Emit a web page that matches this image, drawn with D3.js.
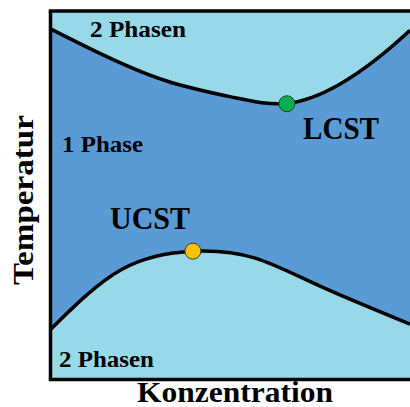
<!DOCTYPE html>
<html>
<head>
<meta charset="utf-8">
<script src="https://cdn.jsdelivr.net/npm/d3@7"></script>
<style>
  body { margin: 0; background: #fff; }
  text { font-family: "Liberation Serif", "Times New Roman", serif; font-weight: bold; }
</style>
</head>
<body>
<div id="chart"></div>
<script>
// upper boundary (LCST branch): concentration vs temperature
var upperConc = [0, 14, 32, 51, 66, 80, 92, 100];
var upperTemp = [95.1, 88.3, 81.0, 76.4, 74.8, 79.7, 87.8, 94.6];

// lower boundary (UCST branch)
var lowerConc = [0, 20, 40, 57, 75, 100];
var lowerTemp = [13.3, 29.8, 34.7, 32.8, 25.2, 14.9];

// critical points
var critNames = ["LCST", "UCST"];
var critConc = [65.8, 39.7];
var critTemp = [74.7, 34.7];
var critColors = ["#00b050", "#ffc000"];

// region labels
var regionNames = ["2 Phasen", "1 Phase", "2 Phasen"];

var width = 410, height = 407;
var margin = {top: 10.5, right: 0, bottom: 28, left: 50};

var svg = d3.select("#chart")
    .append("svg")
        .attr("width", width)
        .attr("height", height);

var x = d3.scaleLinear()
    .domain([0, 100])
    .range([margin.left, width - margin.right]);

var y = d3.scaleLinear()
    .domain([0, 100])
    .range([height - margin.bottom, margin.top]);

var upper = upperConc.map(function(c, i) { return {c: c, t: upperTemp[i]}; });
var lower = lowerConc.map(function(c, i) { return {c: c, t: lowerTemp[i]}; });

// one phase background
svg.append("rect")
    .attr("x", x(0))
    .attr("y", y(100))
    .attr("width", x(100) - x(0))
    .attr("height", y(0) - y(100))
    .attr("fill", "#5b9bd5");

// two phase regions
var areaTop = d3.area()
    .curve(d3.curveNatural)
    .x(function(d) { return x(d.c); })
    .y0(y(100))
    .y1(function(d) { return y(d.t); });

var areaBottom = d3.area()
    .curve(d3.curveNatural)
    .x(function(d) { return x(d.c); })
    .y0(y(0))
    .y1(function(d) { return y(d.t); });

svg.append("path").attr("d", areaTop(upper)).attr("fill", "#98d9e9");
svg.append("path").attr("d", areaBottom(lower)).attr("fill", "#98d9e9");

// boundary lines
var line = d3.line()
    .curve(d3.curveNatural)
    .x(function(d) { return x(d.c); })
    .y(function(d) { return y(d.t); });

svg.selectAll("theLines")
    .data([upper, lower])
    .enter()
    .append("path")
        .attr("d", function(d) { return line(d); })
        .attr("fill", "none")
        .attr("stroke", "#000")
        .attr("stroke-width", 3.5);

// frame drawn with axes (no ticks)
function frame(g) {
    g.selectAll(".domain").attr("stroke", "#000").attr("stroke-width", 3.5);
}
svg.append("g")
    .attr("transform", "translate(" + margin.left + ",0)")
    .call(d3.axisLeft(y).tickValues([]).tickSizeOuter(0))
    .call(frame);
svg.append("g")
    .attr("transform", "translate(0," + y(100) + ")")
    .call(d3.axisTop(d3.scaleLinear().range([margin.left - 1.75, width])).tickValues([]).tickSizeOuter(0))
    .call(frame);
svg.append("g")
    .attr("transform", "translate(0," + y(0) + ")")
    .call(d3.axisBottom(d3.scaleLinear().range([margin.left - 1.75, width])).tickValues([]).tickSizeOuter(0))
    .call(frame);

// critical points
svg.selectAll("critDots")
    .data(critNames)
    .enter()
    .append("circle")
        .attr("cx", function(d, i) { return x(critConc[i]); })
        .attr("cy", function(d, i) { return y(critTemp[i]); })
        .attr("r", 8)
        .attr("fill", function(d, i) { return critColors[i]; })
        .attr("stroke", "#3a3a20")
        .attr("stroke-width", 1);

// labels: [text, x, baseline y, width, size]
var labels = [
    [regionNames[0], 90, 37, 96, 23],
    [regionNames[1], 62, 152, 81, 23],
    [regionNames[2], 59, 367, 95, 23],
    [critNames[0], 303, 139, 76, 31],
    [critNames[1], 110, 229, 80, 31],
    ["Konzentration", 137, 402, 196, 30]
];

svg.selectAll("theLabels")
    .data(labels)
    .enter()
    .append("text")
        .attr("x", function(d) { return d[1]; })
        .attr("y", function(d) { return d[2]; })
        .attr("textLength", function(d) { return d[3]; })
        .attr("lengthAdjust", "spacingAndGlyphs")
        .attr("fill", "#000")
        .style("font-size", function(d) { return d[4] + "px"; })
        .text(function(d) { return d[0]; });

// y axis title
svg.append("text")
    .attr("transform", "translate(33,200) rotate(-90)")
    .attr("text-anchor", "middle")
    .attr("textLength", 170)
    .attr("lengthAdjust", "spacingAndGlyphs")
    .attr("fill", "#000")
    .style("font-size", "30px")
    .text("Temperatur");
</script>
</body>
</html>
